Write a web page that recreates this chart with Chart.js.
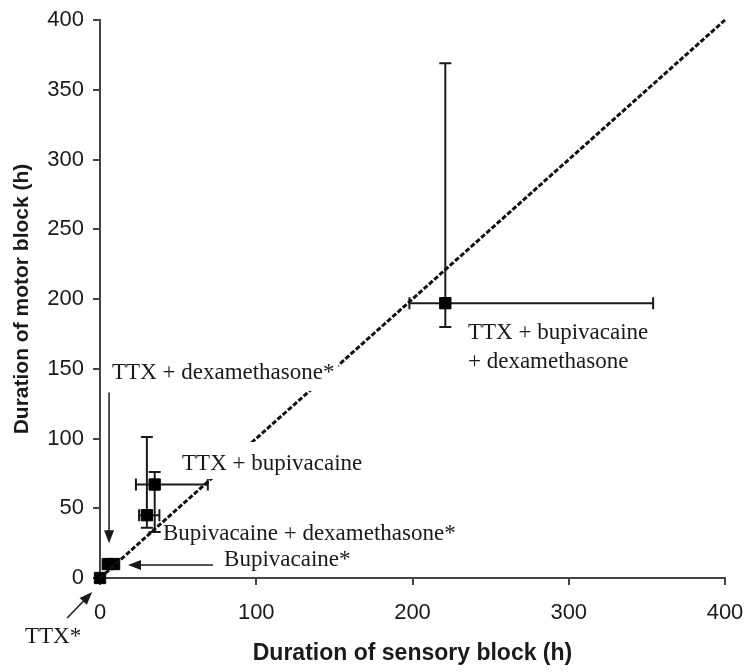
<!DOCTYPE html>
<html><head><meta charset="utf-8">
<script src="https://cdn.jsdelivr.net/npm/chart.js@4/dist/chart.umd.min.js"></script>
<style>html,body{margin:0;padding:0;background:#fff}canvas{display:block}</style>
</head><body>
<canvas id="c" width="750" height="672"></canvas>
<script>
// ---- data ----
const groups = ['TTX', 'TTX + dexamethasone', 'Bupivacaine', 'Bupivacaine + dexamethasone', 'TTX + bupivacaine', 'TTX + bupivacaine + dexamethasone'];
const sensory     = [0, 5, 9, 30, 35, 221];
const motor       = [0, 10, 10, 45, 67, 197];
const sensoryLow  = [null, null, null, 25, 23, 198];
const sensoryHigh = [null, null, null, 38, 69, 354];
const motorLow    = [null, null, null, 36, 33, 180];
const motorHigh   = [null, null, null, 101, 76, 369];
const identityLine = [0, 400];
const xTicks = [0, 100, 200, 300, 400];
const yTicks = [0, 50, 100, 150, 200, 250, 300, 350, 400];
const labelTexts = ['TTX + dexamethasone*', 'TTX + bupivacaine', 'Bupivacaine + dexamethasone*', 'Bupivacaine*', 'TTX*', 'TTX + bupivacaine', '+ dexamethasone'];

// ---- annotation layout (data coordinates) ----
const labelPos = [
  {x: 7.7,   y: 147,   bg: [4, 20, 18]},
  {x: 52.5,  y: 81.7,  bg: [2, 22, 15]},
  {x: 40.3,  y: 31.5},
  {x: 79.4,  y: 12.9},
  {x: -48,   y: -42.3},
  {x: 235.5, y: 175.6},
  {x: 235.5, y: 154.8}
];
const arrows = [
  {from: [5.8, 133], to: [5.8, 25]},
  {from: [72.3, 9.3], to: [17.9, 9.3]},
  {from: [-21, -28.7], to: [-5, -10]}
];

const INK = '#1a1a1a';
const SERIF = '"Liberation Serif", "Times New Roman", serif';
const SANS = '"Liberation Sans", Arial, sans-serif';

const errorBars = {
  id: 'errorBars',
  beforeDatasetsDraw(chart) {
    const {ctx, scales: {x, y}} = chart;
    ctx.save();
    ctx.strokeStyle = INK;
    ctx.lineWidth = 2;
    const cap = 6;
    for (let i = 0; i < sensory.length; i++) {
      const px = x.getPixelForValue(sensory[i]);
      const py = y.getPixelForValue(motor[i]);
      if (motorLow[i] != null) {
        const y1 = y.getPixelForValue(motorLow[i]);
        const y2 = y.getPixelForValue(motorHigh[i]);
        ctx.beginPath();
        ctx.moveTo(px, y1); ctx.lineTo(px, y2);
        ctx.moveTo(px - cap, y1); ctx.lineTo(px + cap, y1);
        ctx.moveTo(px - cap, y2); ctx.lineTo(px + cap, y2);
        ctx.stroke();
      }
      if (sensoryLow[i] != null) {
        const x1 = x.getPixelForValue(sensoryLow[i]);
        const x2 = x.getPixelForValue(sensoryHigh[i]);
        ctx.beginPath();
        ctx.moveTo(x1, py); ctx.lineTo(x2, py);
        ctx.moveTo(x1, py - cap); ctx.lineTo(x1, py + cap);
        ctx.moveTo(x2, py - cap); ctx.lineTo(x2, py + cap);
        ctx.stroke();
      }
    }
    ctx.restore();
  }
};

const annotations = {
  id: 'annotations',
  afterDatasetsDraw(chart) {
    const {ctx, scales: {x, y}} = chart;
    ctx.save();
    ctx.font = '23px ' + SERIF;
    ctx.textBaseline = 'middle';
    ctx.textAlign = 'left';
    labelTexts.forEach((t, i) => {
      const p = labelPos[i];
      const px = x.getPixelForValue(p.x);
      const py = y.getPixelForValue(p.y);
      if (p.bg) {
        const w = ctx.measureText(t).width;
        ctx.fillStyle = '#fff';
        ctx.fillRect(px - p.bg[0], py - p.bg[1], w + 2 * p.bg[0], p.bg[1] + p.bg[2]);
      }
      ctx.fillStyle = INK;
      ctx.fillText(t, px, py);
    });
    ctx.strokeStyle = INK;
    ctx.fillStyle = INK;
    ctx.lineWidth = 1.5;
    arrows.forEach(a => {
      const x1 = x.getPixelForValue(a.from[0]), y1 = y.getPixelForValue(a.from[1]);
      const x2 = x.getPixelForValue(a.to[0]), y2 = y.getPixelForValue(a.to[1]);
      const ang = Math.atan2(y2 - y1, x2 - x1);
      const L = 13, W = 5;
      ctx.beginPath();
      ctx.moveTo(x1, y1);
      ctx.lineTo(x2 - Math.cos(ang) * L * 0.8, y2 - Math.sin(ang) * L * 0.8);
      ctx.stroke();
      ctx.beginPath();
      ctx.moveTo(x2, y2);
      ctx.lineTo(x2 - Math.cos(ang) * L - Math.sin(ang) * W, y2 - Math.sin(ang) * L + Math.cos(ang) * W);
      ctx.lineTo(x2 - Math.cos(ang) * L + Math.sin(ang) * W, y2 - Math.sin(ang) * L - Math.cos(ang) * W);
      ctx.closePath();
      ctx.fill();
    });
    ctx.restore();
  }
};

new Chart(document.getElementById('c'), {
  data: {
    datasets: [
      {
        type: 'line',
        label: 'Identity',
        data: identityLine.map(v => ({x: v, y: v})),
        borderColor: '#111',
        borderWidth: 3,
        borderDash: [5, 2],
        pointRadius: 0,
        fill: false,
        clip: false
      },
      {
        type: 'scatter',
        label: 'Groups',
        data: groups.map((g, i) => ({x: sensory[i], y: motor[i]})),
        pointStyle: 'rect',
        pointRadius: 8,
        backgroundColor: '#000',
        borderColor: '#000',
        borderWidth: 1,
        clip: false
      }
    ]
  },
  options: {
    responsive: false,
    animation: false,
    devicePixelRatio: 1,
    layout: {padding: {top: 20, right: 25, left: 0, bottom: 0}},
    plugins: {legend: {display: false}, tooltip: {enabled: false}},
    scales: {
      x: {
        type: 'linear', min: 0, max: 400,
        afterBuildTicks: s => { s.ticks = xTicks.map(v => ({value: v})); },
        afterFit: s => { s.height = 94; s.paddingLeft = 0; s.paddingRight = 0; },
        ticks: {font: {family: SANS, size: 22}, color: INK, padding: 15},
        grid: {drawOnChartArea: false, drawTicks: true, tickLength: 7, color: '#444', lineWidth: 2},
        border: {display: true, color: '#444', width: 2},
        title: {display: true, text: 'Duration of sensory block (h)', color: INK,
                font: {family: SANS, size: 23, weight: 'bold'}, padding: {top: 0, bottom: 5}}
      },
      y: {
        type: 'linear', min: 0, max: 400,
        afterBuildTicks: s => { s.ticks = yTicks.map(v => ({value: v})); },
        afterFit: s => { s.width = 100; s.paddingTop = 0; s.paddingBottom = 0; },
        ticks: {font: {family: SANS, size: 22}, color: INK, padding: 9},
        grid: {drawOnChartArea: false, drawTicks: true, tickLength: 7, color: '#444', lineWidth: 2},
        border: {display: true, color: '#444', width: 2},
        title: {display: true, text: 'Duration of motor block (h)', color: INK,
                font: {family: SANS, size: 21, weight: 'bold'}, padding: {top: 10, bottom: 0}}
      }
    }
  },
  plugins: [errorBars, annotations]
});
</script>
</body></html>
